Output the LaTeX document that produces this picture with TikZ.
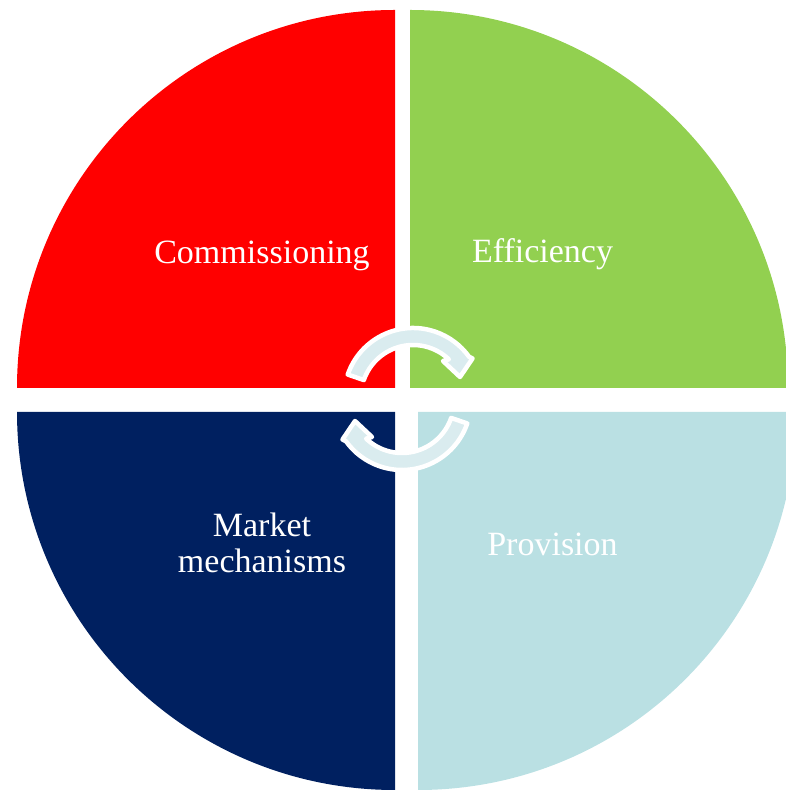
\documentclass[tikz,border=0pt]{standalone}
\usepackage{fontspec}
\setmainfont{Liberation Serif}
\definecolor{segred}{RGB}{255,0,0}
\definecolor{seggreen}{RGB}{146,208,80}
\definecolor{segnavy}{RGB}{0,32,96}
\definecolor{segblue}{RGB}{186,224,227}
\definecolor{arrowfill}{RGB}{218,236,239}
\begin{document}
\begin{tikzpicture}[x=1pt,y=1pt,
  seglabel/.style={text=white, font=\fontsize{34}{36}\selectfont, inner sep=0pt, align=center},
  cyclearrow/.pic={
    \filldraw[fill=arrowfill, draw=white, line width=4.5pt, line join=round]
      (161:69) arc[start angle=161, end angle=35.7, radius=69pt]
      -- (59.5,38.5) -- (47,20) -- (30,36)
      -- (46.4:52) arc[start angle=46.4, end angle=161, radius=52pt] -- cycle;
  }]
\useasboundingbox (0,0) rectangle (786,792);
\clip (0,0) rectangle (786,792);

% four quarter discs
\fill[segred]   (395,404) -- (17,404) arc[start angle=180, end angle=90, radius=378pt] -- cycle;
\fill[seggreen] (410,404) -- (410,782) arc[start angle=90, end angle=0, radius=378pt] -- cycle;
\fill[segnavy]  (395,380) -- (395,2) arc[start angle=270, end angle=180, radius=378pt] -- cycle;
\fill[segblue]  (418,380) -- (796,380) arc[start angle=0, end angle=-90, radius=378pt] -- cycle;

% circular arrows in the middle
\pic (turnA) at (413,395) {cyclearrow};
\pic[rotate=180] (turnB) at (402,391) {cyclearrow};

% labels
\node[seglabel, anchor=base] (commissioning) at (262,528) {Commissioning};
\node[seglabel, anchor=base] (efficiency) at (542.5,529) {Efficiency};
\node[seglabel, anchor=base] (provision) at (552.5,236) {Provision};
\node[seglabel, anchor=base] (market) at (262,219) {Market\\mechanisms};
\end{tikzpicture}
\end{document}
